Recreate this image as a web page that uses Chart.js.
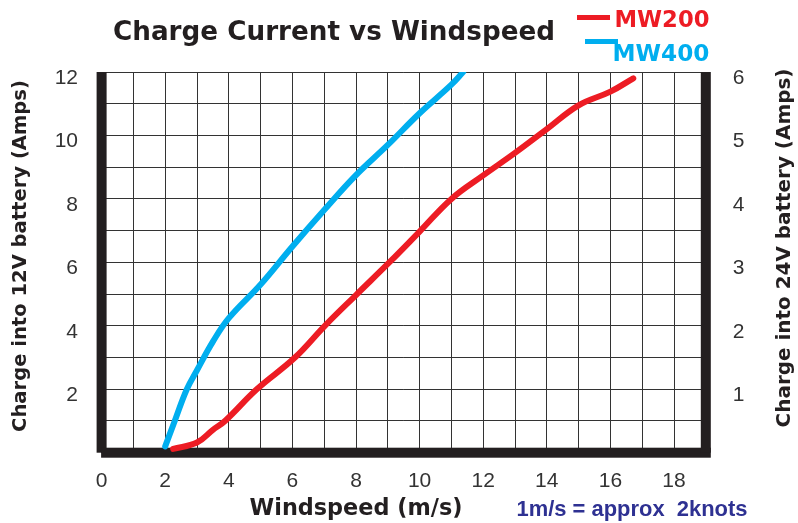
<!DOCTYPE html>
<html>
<head>
<meta charset="utf-8">
<script src="https://cdn.jsdelivr.net/npm/chart.js@4/dist/chart.umd.min.js"></script>
<style>
html, body { margin: 0; padding: 0; background: #fff; }
canvas { display: block; }
</style>
</head>
<body>
<canvas id="myChart" width="798" height="523"></canvas>
<script>
// values
const windMW200 = [2.25, 3, 3.5, 3.88, 4.88, 6.08, 7.02, 8, 9.07, 10, 11, 12, 13, 14, 15, 16, 16.72];
const ampsMW200 = [0.12, 0.32, 0.72, 1, 2, 3, 4, 4.97, 6.02, 6.97, 8, 8.74, 9.45, 10.2, 10.95, 11.38, 11.8];
const windMW400 = [2.0, 2.3, 2.68, 3, 3.5, 4, 5, 6, 7, 8, 9, 10, 11, 11.37];
const ampsMW400 = [0.2, 1, 2, 2.6, 3.5, 4.24, 5.3, 6.5, 7.65, 8.75, 9.7, 10.7, 11.6, 12];
const xTicks = [0, 2, 4, 6, 8, 10, 12, 14, 16, 18];
const yTicks12V = [2, 4, 6, 8, 10, 12];
const yTicks24V = [1, 2, 3, 4, 5, 6];
const seriesNames = ["MW200", "MW400"];

const chartTitle = "Charge Current vs Windspeed";
const xTitle = "Windspeed (m/s)";
const yTitleLeft = "Charge into 12V battery (Amps)";
const yTitleRight = "Charge into 24V battery (Amps)";
const noteText = "1m/s = approx  2knots";

const RED = "#ed1c24";
const BLUE = "#00aeef";
const INK = "#231f20";
const TITLE_FONT = "'DejaVu Sans'";

function fitText(ctx, text, cx, cy, width, weight, family, color, angle) {
  ctx.save();
  ctx.font = weight + " 100px " + family;
  const w = ctx.measureText(text).width;
  const size = 100 * width / w;
  ctx.font = weight + " " + size.toFixed(2) + "px " + family;
  ctx.fillStyle = color;
  ctx.textAlign = "center";
  ctx.textBaseline = "middle";
  ctx.translate(cx, cy);
  ctx.rotate(angle || 0);
  ctx.fillText(text, 0, 0);
  ctx.restore();
}

// thick black frame on left, bottom and right of the plot
const framePlugin = {
  id: "framePlugin",
  beforeDatasetsDraw(chart) {
    const ctx = chart.ctx;
    const a = chart.chartArea;
    ctx.save();
    ctx.fillStyle = INK;
    ctx.fillRect(a.left - 5, a.top, 10, a.bottom - a.top);
    ctx.fillRect(a.left - 0.5, a.bottom - 5, a.right - a.left + 5.5, 10);
    ctx.fillRect(a.right - 5, a.top, 10, a.bottom - a.top);
    ctx.restore();
  }
};

const textPlugin = {
  id: "textPlugin",
  afterDraw(chart) {
    const ctx = chart.ctx;
    fitText(ctx, chartTitle, 334, 33, 442, "bold", TITLE_FONT, INK);
    fitText(ctx, xTitle, 356, 509, 213, "bold", TITLE_FONT, INK);
    fitText(ctx, yTitleLeft, 21, 256, 352, "bold", TITLE_FONT, INK, -Math.PI / 2);
    fitText(ctx, yTitleRight, 785, 248, 359, "bold", TITLE_FONT, INK, -Math.PI / 2);
    fitText(ctx, noteText, 632, 510, 231, "bold", "'Liberation Sans'", "#2e3192");

    // legend
    ctx.save();
    ctx.lineWidth = 5;
    ctx.strokeStyle = RED;
    ctx.beginPath(); ctx.moveTo(577, 17.5); ctx.lineTo(610, 17.5); ctx.stroke();
    ctx.strokeStyle = BLUE;
    ctx.beginPath(); ctx.moveTo(585, 41.5); ctx.lineTo(618, 41.5); ctx.stroke();
    ctx.restore();
    fitText(ctx, seriesNames[0], 662, 21, 95, "bold", TITLE_FONT, RED);
    fitText(ctx, seriesNames[1], 661, 54.5, 97, "bold", TITLE_FONT, BLUE);
  }
};

const CHART = document.getElementById("myChart");
let myChart = new Chart(CHART, {
  type: "scatter",
  data: {
    datasets: [{
      label: seriesNames[0],
      data: windMW200.map((w, i) => ({ x: w, y: ampsMW200[i] })),
      showLine: true,
      borderColor: RED,
      backgroundColor: RED,
      borderWidth: 6,
      borderCapStyle: "round",
      tension: 0.4,
      pointRadius: 0,
      yAxisID: "y"
    }, {
      label: seriesNames[1],
      data: windMW400.map((w, i) => ({ x: w, y: ampsMW400[i] })),
      showLine: true,
      borderColor: BLUE,
      backgroundColor: BLUE,
      borderWidth: 6,
      borderCapStyle: "round",
      tension: 0.4,
      pointRadius: 0,
      yAxisID: "y"
    }]
  },
  options: {
    responsive: false,
    animation: false,
    events: [],
    layout: { padding: { top: 72, left: 0, right: 0, bottom: 0 } },
    plugins: { legend: { display: false }, tooltip: { enabled: false } },
    scales: {
      x: {
        type: "linear",
        min: 0, max: 19,
        afterFit(s) { s.height = 70.3; },
        grid: { color: "#333", lineWidth: 1, drawTicks: false },
        border: { display: false },
        ticks: {
          stepSize: 1, autoSkip: false, maxRotation: 0, padding: 16,
          color: "#333", font: { family: "'Liberation Sans'", size: 21 },
          callback: (v) => xTicks.includes(v) ? v : ""
        }
      },
      y: {
        position: "left",
        min: 0, max: 12,
        afterFit(s) { s.width = 101.6; },
        grid: { color: "#333", lineWidth: 1, drawTicks: false },
        border: { display: false },
        ticks: {
          stepSize: 1, autoSkip: false, padding: 23.6, labelOffset: 6,
          color: "#333", font: { family: "'Liberation Sans'", size: 21 },
          callback: (v) => yTicks12V.includes(v) ? v : ""
        }
      },
      y2: {
        position: "right",
        min: 0, max: 6,
        afterFit(s) { s.width = 92.2; },
        grid: { drawOnChartArea: false, drawTicks: false },
        border: { display: false },
        ticks: {
          stepSize: 1, autoSkip: false, padding: 27, labelOffset: 6,
          color: "#333", font: { family: "'Liberation Sans'", size: 21 },
          callback: (v) => yTicks24V.includes(v) ? v : ""
        }
      }
    }
  },
  plugins: [framePlugin, textPlugin]
});
</script>
</body>
</html>
